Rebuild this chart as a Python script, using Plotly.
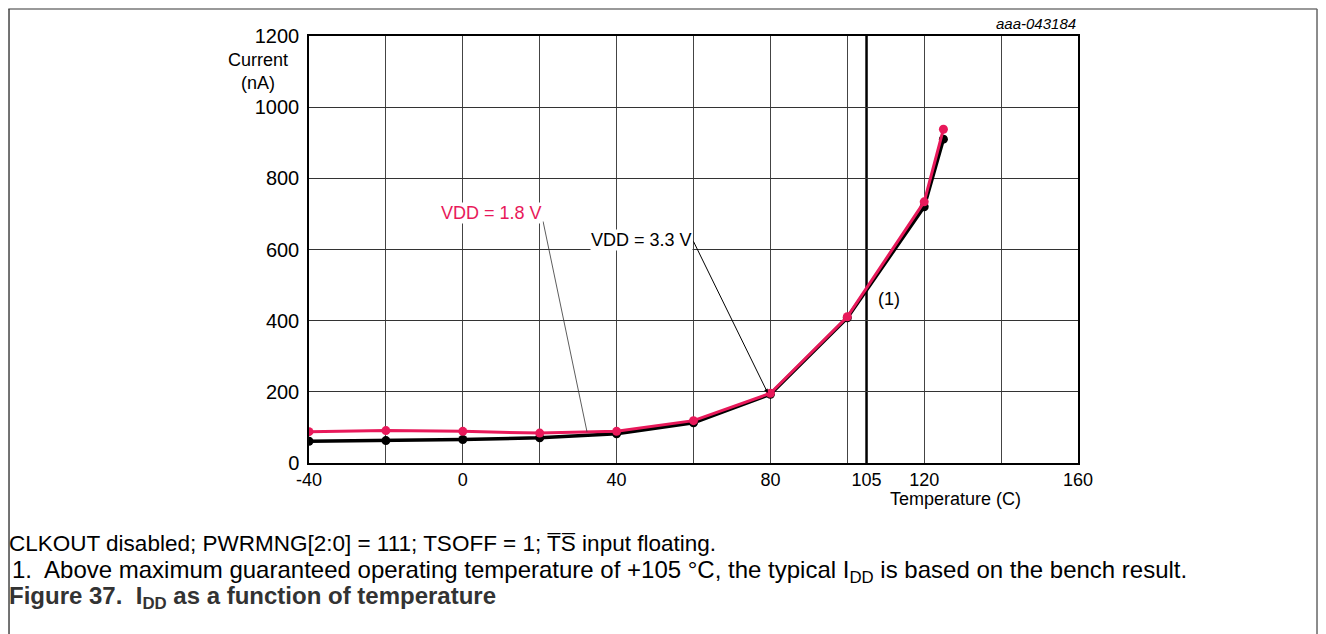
import plotly.graph_objects as go

temp = [-40, -20, 0, 20, 40, 60, 80, 100, 120, 125]
idd_18 = [88, 91, 89, 84, 89, 119, 196, 411, 734, 938]
idd_33 = [61, 63, 66, 71, 82, 113, 193, 408, 720, 910]

x_ticks = [-40, 0, 40, 80, 105, 120, 160]
y_ticks = [0, 200, 400, 600, 800, 1000, 1200]
t_max = 105

red = "#e8195a"
font = "Liberation Sans, Arial, sans-serif"

fig = go.Figure()

fig.add_trace(go.Scatter(x=temp, y=idd_33, mode="lines+markers", name="VDD = 3.3 V",
                         line=dict(color="black", width=3.5),
                         marker=dict(color="black", size=9)))
fig.add_trace(go.Scatter(x=temp, y=idd_18, mode="lines+markers", name="VDD = 1.8 V",
                         line=dict(color=red, width=3),
                         marker=dict(color=red, size=9)))

# max guaranteed temperature line
fig.add_vline(x=t_max, line=dict(color="black", width=2.5), layer="below")

# leader lines
fig.add_annotation(x=32.3, y=88, ax=20.8, ay=683, xref="x", yref="y", axref="x", ayref="y",
                   text="", showarrow=True, arrowhead=0, arrowwidth=0.8, arrowcolor="#333")
fig.add_annotation(x=79.3, y=197, ax=59.8, ay=627, xref="x", yref="y", axref="x", ayref="y",
                   text="", showarrow=True, arrowhead=2, arrowsize=0.8, arrowwidth=1, arrowcolor="black")

fig.add_annotation(x=20.8, y=703, xref="x", yref="y", text="VDD = 1.8 V", showarrow=False,
                   xanchor="right", yanchor="middle", bgcolor="white", borderpad=0,
                   font=dict(family=font, size=18, color=red))
fig.add_annotation(x=59.8, y=627, xref="x", yref="y", text="VDD = 3.3 V", showarrow=False,
                   xanchor="right", yanchor="middle", bgcolor="white", borderpad=0,
                   font=dict(family=font, size=18, color="black"))
fig.add_annotation(x=107.5, y=461, xref="x", yref="y", text="(1)", showarrow=False,
                   xanchor="left", yanchor="middle",
                   font=dict(family=font, size=18, color="black"))

# axis titles
fig.add_annotation(x=-0.066, y=0.917, xref="paper", yref="paper", text="Current<br>(nA)",
                   showarrow=False, xanchor="center", yanchor="middle",
                   font=dict(family=font, size=18, color="black"))
fig.add_annotation(x=0.841, y=-0.084, xref="paper", yref="paper", text="Temperature (C)",
                   showarrow=False, xanchor="center", yanchor="middle",
                   font=dict(family=font, size=18, color="black"))
fig.add_annotation(x=1.0, y=1.03, xref="paper", yref="paper", text="<i>aaa-043184</i>",
                   showarrow=False, xanchor="right", yanchor="middle",
                   font=dict(family=font, size=15, color="black"))

# caption block
fig.add_annotation(x=-0.393, y=-0.188, xref="paper", yref="paper",
                   text="CLKOUT disabled; PWRMNG[2:0] = 111; TSOFF = 1; T\u0305S\u0305 input floating.",
                   showarrow=False, xanchor="left", yanchor="middle",
                   font=dict(family=font, size=22.5, color="black"))
fig.add_annotation(x=-0.389, y=-0.253, xref="paper", yref="paper",
                   text="1.  Above maximum guaranteed operating temperature of +105 °C, the typical I<sub>DD</sub> is based on the bench result.",
                   showarrow=False, xanchor="left", yanchor="middle",
                   font=dict(family=font, size=24, color="black"))
fig.add_annotation(x=-0.393, y=-0.316, xref="paper", yref="paper",
                   text="<b>Figure 37.  I<sub>DD</sub> as a function of temperature</b>",
                   showarrow=False, xanchor="left", yanchor="middle",
                   font=dict(family=font, size=24, color="#333333"))

# outer frame
fig.add_shape(type="line", xref="paper", yref="paper", x0=-0.391, x1=1.311, y0=1.0632, y1=1.0632,
              line=dict(color="#999999", width=2))
fig.add_shape(type="line", xref="paper", yref="paper", x0=-0.3901, x1=-0.3901, y0=1.0632, y1=-0.42,
              line=dict(color="#444444", width=1.5))
fig.add_shape(type="line", xref="paper", yref="paper", x0=1.3108, x1=1.3108, y0=1.0632, y1=-0.42,
              line=dict(color="#666666", width=1.5))

fig.update_xaxes(range=[-40, 160], tickvals=x_ticks, ticktext=[str(v) for v in x_ticks],
                 showgrid=False, showline=True, linecolor="black", linewidth=1.5, mirror=True,
                 ticks="", zeroline=False, tickfont=dict(family=font, size=18, color="black"))
fig.update_xaxes(minor=dict(dtick=20, tick0=0, showgrid=True, gridcolor="#444444", gridwidth=1))
fig.update_yaxes(range=[0, 1200], tickvals=y_ticks, showgrid=True, gridcolor="#333333", gridwidth=1,
                 showline=True, linecolor="black", linewidth=1.5, mirror=True, ticks="",
                 ticklabelstandoff=4,
                 zeroline=False, tickfont=dict(family=font, size=20, color="black"))

# page body adds ~8px offset, so margins are shifted to land the plot area at the reference position
fig.update_layout(width=1326, height=634, showlegend=False,
                  margin=dict(l=301, r=256, t=28, b=179),
                  plot_bgcolor="white", paper_bgcolor="white")

fig.write_html("out.html")
